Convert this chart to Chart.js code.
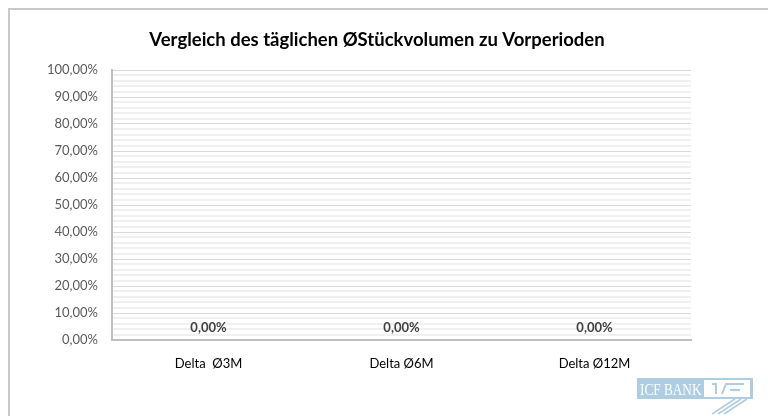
<!DOCTYPE html>
<html>
<head>
<meta charset="utf-8">
<script src="https://cdn.jsdelivr.net/npm/chart.js@4/dist/chart.umd.min.js"></script>
<style>
  html, body { margin: 0; padding: 0; background: #fff; }
  #wrap { position: relative; width: 768px; height: 416px; overflow: hidden; }
  #frame { position: absolute; left: 8px; top: 8px; width: 800px; height: 500px;
           border-left: 2px solid #c9c9c9; border-top: 2px solid #c9c9c9; }
  canvas { position: absolute; left: 0; top: 0; }
</style>
</head>
<body>
<div id="wrap">
  <div id="frame"></div>
  <canvas id="c" width="768" height="416"></canvas>
</div>
<script>
const title = "Vergleich des täglichen ØStückvolumen zu Vorperioden";
const categories = ["Delta  Ø3M", "Delta Ø6M", "Delta Ø12M"];
const values = [0, 0, 0];
const yMin = 0, yMax = 1, yStep = 0.02, majorEvery = 5;

const fmtPct = v => (v * 100).toFixed(2).replace('.', ',') + '%';

const titlePlugin = {
  id: 'titleText',
  afterDraw(chart) {
    const ctx = chart.ctx;
    ctx.save();
    ctx.font = 'bold 18.5px Lato';
    ctx.fillStyle = '#000000';
    ctx.textAlign = 'center';
    ctx.textBaseline = 'middle';
    ctx.fillText(title, 377, 40);
    ctx.restore();
  }
};

const dataLabels = {
  id: 'dataLabels',
  afterDatasetsDraw(chart) {
    const ctx = chart.ctx;
    const meta = chart.getDatasetMeta(0);
    ctx.save();
    ctx.font = 'bold 13px Lato';
    ctx.fillStyle = '#404040';
    ctx.textAlign = 'center';
    ctx.textBaseline = 'bottom';
    meta.data.forEach((el, i) => {
      ctx.fillText(fmtPct(values[i]), el.x, el.y - 6);
    });
    ctx.restore();
  }
};

const logo = {
  id: 'logo',
  afterDraw(chart) {
    const ctx = chart.ctx;
    ctx.save();
    ctx.fillStyle = '#aecde3';
    ctx.fillRect(637, 378, 116, 21);
    ctx.fillStyle = '#ffffff';
    ctx.fillRect(704, 380, 46, 17);
    ctx.save();
    ctx.translate(640, 395);
    ctx.scale(0.78, 1);
    ctx.font = '17px "Liberation Serif"';
    ctx.textBaseline = 'alphabetic';
    ctx.fillText('ICF BANK', 0, 0);
    ctx.restore();
    ctx.strokeStyle = '#aecde3';
    ctx.lineWidth = 2;
    ctx.beginPath();
    ctx.moveTo(712, 384); ctx.lineTo(716, 384); ctx.lineTo(716, 394);
    ctx.moveTo(722, 394); ctx.lineTo(726, 384); ctx.lineTo(744, 384);
    ctx.moveTo(730, 390); ctx.lineTo(740, 390);
    ctx.stroke();
    ctx.lineWidth = 1.5;
    ctx.beginPath();
    for (let k = 0; k < 3; k++) {
      ctx.moveTo(712 + k * 6, 414);
      ctx.lineTo(735 + k * 6, 399);
    }
    ctx.stroke();
    ctx.restore();
  }
};

new Chart(document.getElementById('c'), {
  type: 'bar',
  data: {
    labels: categories,
    datasets: [{ data: values, backgroundColor: '#4472c4', borderWidth: 0 }]
  },
  options: {
    responsive: false,
    animation: false,
    layout: { padding: { left: 0, right: 77, top: 70, bottom: 0 } },
    plugins: {
      legend: { display: false },
      tooltip: { enabled: false },
      title: { display: false }
    },
    scales: {
      x: {
        grid: { display: false },
        border: { color: '#c0c0c0', width: 2 },
        ticks: { color: '#000000', font: { family: 'Lato', size: 13 }, padding: 8 },
        afterFit(s) { s.height = 76; }
      },
      y: {
        min: yMin, max: yMax,
        border: { color: '#c0c0c0', width: 2 },
        grid: {
          drawTicks: false,
          color: c => (c.index % majorEvery === 0 ? '#d9d9d9' : '#f0f0f0'),
          lineWidth: c => (c.index % majorEvery === 0 ? 1 : 2)
        },
        ticks: {
          stepSize: yStep,
          autoSkip: false,
          padding: 14,
          color: '#595959',
          font: { family: 'Lato', size: 13 },
          callback: (v, i) => (i % majorEvery === 0 ? fmtPct(v) : '')
        },
        afterFit(s) { s.width = 112; }
      }
    }
  },
  plugins: [titlePlugin, dataLabels, logo]
});
</script>
</body>
</html>
